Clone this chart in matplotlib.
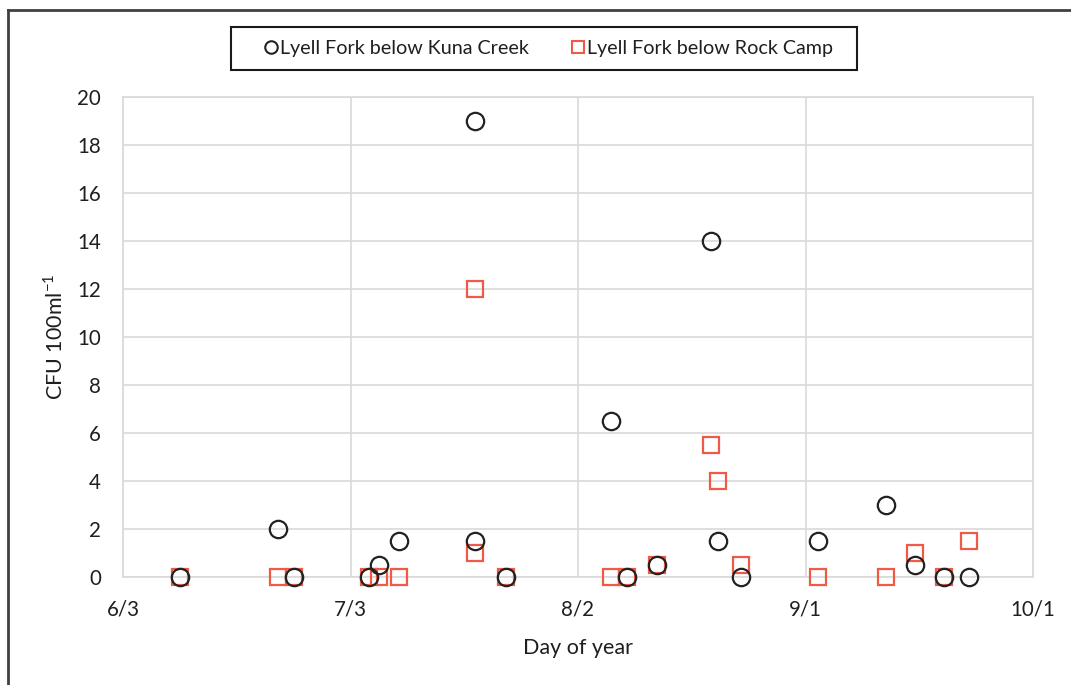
import matplotlib
matplotlib.use("Agg")
import matplotlib.pyplot as plt
from matplotlib.lines import Line2D
from matplotlib.patches import Rectangle

# Day of year (2013): 6/3 = 154, 7/3 = 184, 8/2 = 214, 9/1 = 244, 10/1 = 274
sample_days = [161.5, 174.4, 176.5, 186.5, 187.8, 190.4, 200.4, 200.4, 204.5, 218.3,
               220.5, 224.4, 231.5, 232.5, 235.5, 245.6, 254.6, 258.4, 262.3, 265.6]
kuna_cfu = [0, 2, 0, 0, 0.5, 1.5, 19, 1.5, 0, 6.5,
            0, 0.5, 14, 1.5, 0, 1.5, 3, 0.5, 0, 0]
rock_cfu = [0, 0, 0, 0, 0, 0, 12, 1, 0, 0,
            0, 0.5, 5.5, 4, 0.5, 0, 0, 1, 0, 1.5]
tick_days = [154, 184, 214, 244, 274]
tick_labels = ["6/3", "7/3", "8/2", "9/1", "10/1"]
series_names = ["Lyell Fork below Kuna Creek", "Lyell Fork below Rock Camp"]

plt.rcParams['font.family'] = ['Lato', 'DejaVu Sans']

W, H = 1071, 685
fig = plt.figure(figsize=(W / 100, H / 100), dpi=100)
ax = fig.add_axes([123 / W, 1 - 577 / H, (1033 - 123) / W, (577 - 97) / H])

circ_col = '#222222'
sq_col = '#EE5A45'

ax.plot(sample_days, rock_cfu, linestyle='none', marker='s', markersize=12,
        markerfacecolor='none', markeredgecolor=sq_col, markeredgewidth=1.6,
        zorder=3, clip_on=False)
ax.plot(sample_days, kuna_cfu, linestyle='none', marker='o', markersize=12.5,
        markerfacecolor='none', markeredgecolor=circ_col, markeredgewidth=1.6,
        zorder=4, clip_on=False)

ax.set_xlim(154, 274)
ax.set_ylim(0, 20)
ax.set_xticks(tick_days)
ax.set_xticklabels(tick_labels)
ax.set_yticks(range(0, 21, 2))
ax.grid(True, color='#D9D9D9', linewidth=1.2)
ax.set_axisbelow(True)
for s in ax.spines.values():
    s.set_color('#D9D9D9')
    s.set_linewidth(1.2)
ax.tick_params(length=0, labelsize=14.8, labelcolor='#1f1f1f')
ax.tick_params(axis='x', pad=16)
ax.tick_params(axis='y', pad=16)

ax.set_xlabel("Day of year", fontsize=15.5, color='#1f1f1f', va='center')
ax.set_ylabel("CFU 100ml$^{\\mathregular{-1}}$", fontsize=15.5, color='#1f1f1f', va='center')
ax.xaxis.set_label_coords(0.5, (577 - 648) / 480)
ax.yaxis.set_label_coords((55 - 123) / 910, 0.5)

# Outer chart border (top and left)
fig.add_artist(Line2D([8 / W, 1.0], [1 - 10 / H, 1 - 10 / H], transform=fig.transFigure,
                      color='#404040', linewidth=2))
fig.add_artist(Line2D([8 / W, 8 / W], [0, 1 - 10 / H], transform=fig.transFigure,
                      color='#404040', linewidth=2))

# Legend box
fig.add_artist(Rectangle((231 / W, 1 - 70 / H), (857 - 231) / W, (70 - 27) / H,
                         transform=fig.transFigure, fill=False, edgecolor='#1a1a1a', linewidth=1.5))
handles = [Line2D([], [], linestyle='none', marker='o', markersize=9, markerfacecolor='none',
                  markeredgecolor=circ_col, markeredgewidth=1.5),
           Line2D([], [], linestyle='none', marker='s', markersize=9, markerfacecolor='none',
                  markeredgecolor=sq_col, markeredgewidth=1.5)]
fig.legend(handles, series_names, loc='center', bbox_to_anchor=(549 / W, 1 - 48.5 / H),
           ncol=2, frameon=False, fontsize=14.2, handlelength=0.6, handletextpad=0.15,
           columnspacing=2.2, labelcolor='#1f1f1f')

fig.savefig("out.png", dpi=100)
